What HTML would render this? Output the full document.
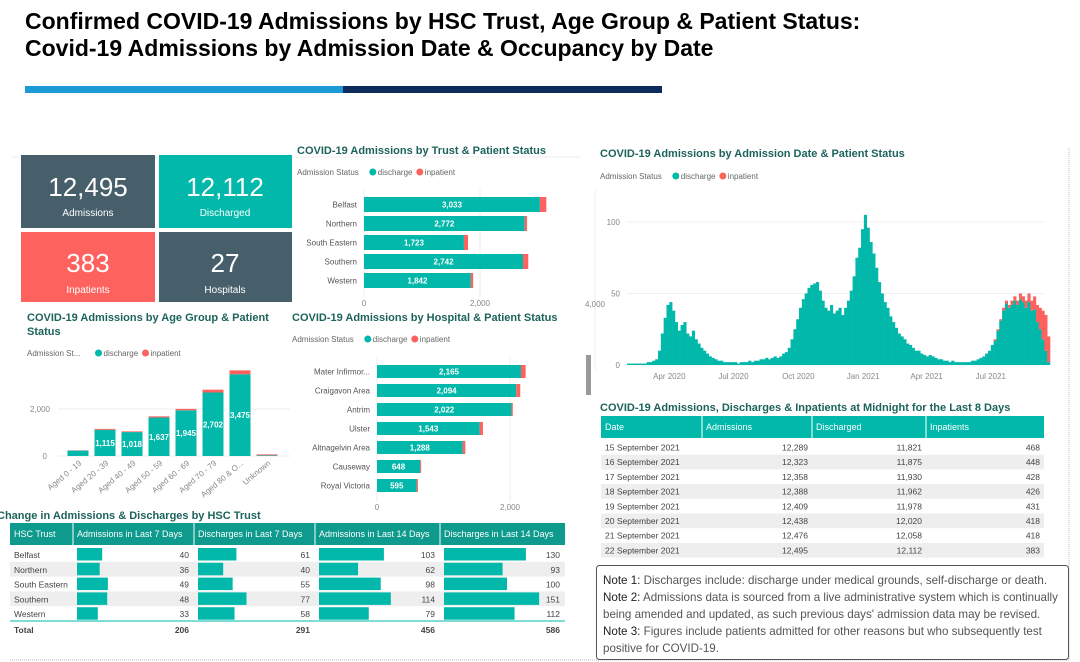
<!DOCTYPE html>
<html><head><meta charset="utf-8"><style>
html,body{margin:0;padding:0;background:#fff;width:1080px;height:662px;overflow:hidden;font-family:"Liberation Sans",sans-serif}
svg{display:block}
.t{font-weight:bold;fill:#1d635c;font-size:11px}
.lg{font-size:8px;fill:#666}
.ax{font-size:8px;fill:#888}
.cl{font-size:8px;fill:#555}
.dl{font-size:8px;fill:#fff;font-weight:bold}
.th{font-size:9px;fill:#fff}
.td{font-size:8.5px;fill:#444}
.note{font-size:11.6px;fill:#555}
.note tspan.b{fill:#222}
</style></head><body>
<svg id="s" width="1080" height="662" xmlns="http://www.w3.org/2000/svg">
<text x="25" y="29" font-size="23" font-weight="bold" fill="#000">Confirmed COVID-19 Admissions by HSC Trust, Age Group &amp; Patient Status:</text>
<text x="25" y="56" font-size="23" font-weight="bold" fill="#000">Covid-19 Admissions by Admission Date &amp; Occupancy by Date</text>
<rect x="25" y="86" width="318" height="7" fill="#1b9ad6"/>
<rect x="343" y="86" width="319" height="7" fill="#0f2a5c"/>
<line x1="12" y1="157" x2="580" y2="157" stroke="#eee"/>
<line x1="1069" y1="148" x2="1069" y2="660" stroke="#bbb" stroke-dasharray="1,1"/>
<line x1="10" y1="660" x2="1069" y2="660" stroke="#bbb" stroke-dasharray="1,1"/>
<rect x="586" y="355" width="5" height="40" fill="#999"/>

<g><rect x="21" y="155" width="134" height="73" fill="#465f6a"/><text x="88" y="196" text-anchor="middle" font-size="26" fill="#fff">12,495</text><text x="88" y="216" text-anchor="middle" font-size="10" fill="#fff">Admissions</text></g>
<g><rect x="159" y="155" width="133" height="73" fill="#01b8aa"/><text x="225" y="196" text-anchor="middle" font-size="26" fill="#fff">12,112</text><text x="225" y="216" text-anchor="middle" font-size="10" fill="#fff">Discharged</text></g>
<g><rect x="21" y="232" width="134" height="70" fill="#fd625e"/><text x="88" y="272" text-anchor="middle" font-size="26" fill="#fff">383</text><text x="88" y="293" text-anchor="middle" font-size="10" fill="#fff">Inpatients</text></g>
<g><rect x="159" y="232" width="133" height="70" fill="#465f6a"/><text x="225" y="272" text-anchor="middle" font-size="26" fill="#fff">27</text><text x="225" y="293" text-anchor="middle" font-size="10" fill="#fff">Hospitals</text></g>

<text class="t" x="297" y="154">COVID-19 Admissions by Trust &amp; Patient Status</text>
<text class="t" x="27" y="321">COVID-19 Admissions by Age Group &amp; Patient</text>
<text class="t" x="27" y="335">Status</text>
<text class="t" x="292" y="321">COVID-19 Admissions by Hospital &amp; Patient Status</text>
<text class="t" x="600" y="157">COVID-19 Admissions by Admission Date &amp; Patient Status</text>
<text class="t" x="-3" y="519">Change in Admissions &amp; Discharges by HSC Trust</text>
<text class="t" x="600" y="411">COVID-19 Admissions, Discharges &amp; Inpatients at Midnight for the Last 8 Days</text>

<g>
<rect x="596.5" y="565.5" width="472" height="94" rx="3" fill="#fff" stroke="#555"/>
<text class="note" x="603" y="584"><tspan class="b">Note 1:</tspan> Discharges include: discharge under medical grounds, self-discharge or death.</text>
<text class="note" x="603" y="601"><tspan class="b">Note 2:</tspan> Admissions data is sourced from a live administrative system which is continually</text>
<text class="note" x="603" y="618">being amended and updated, as such previous days' admission data may be revised.</text>
<text class="note" x="603" y="635"><tspan class="b">Note 3:</tspan> Figures include patients admitted for other reasons but who subsequently test</text>
<text class="note" x="603" y="652">positive for COVID-19.</text>
</g>
</svg>
<script>
const trustCats=['Belfast','Northern','South Eastern','Southern','Western'];
const trustDis=[3033,2772,1723,2742,1842];
const trustInp=[110,40,70,90,40];
const ageCats=['Aged 0 - 19','Aged 20 - 39','Aged 40 - 49','Aged 50 - 59','Aged 60 - 69','Aged 70 - 79','Aged 80 & O...','Unknown'];
const ageDis=[230,1115,1018,1637,1945,2702,3475,30];
const ageInp=[10,40,30,50,60,120,170,40];
const ageLabels=['','1,115','1,018','1,637','1,945','2,702','3,475',''];
const hospCats=['Mater Infirmor...','Craigavon Area','Antrim','Ulster','Altnagelvin Area','Causeway','Royal Victoria'];
const hospDis=[2165,2094,2022,1543,1288,648,595];
const hospInp=[70,60,20,50,40,15,20];
const dateDis=[1,1,1,1,1,1,1,2,2,3,4,10,22,33,42,44,38,30,24,28,30,22,20,24,18,15,12,10,8,6,5,4,3,3,2,2,2,2,2,1,2,2,2,3,2,3,3,4,4,5,4,5,6,5,6,8,9,12,18,25,32,40,46,50,54,56,57,58,52,45,40,38,42,36,38,40,35,40,45,52,62,75,82,95,105,96,86,78,68,58,50,44,40,34,30,26,22,20,18,15,14,12,10,10,8,7,6,7,6,5,4,4,3,3,2,3,2,2,2,2,2,2,3,3,4,5,6,8,10,14,17,24,31,38,43,40,42,45,42,46,44,40,44,38,39,30,25,18,10,2];
const dateInp=[0,0,0,0,0,0,0,0,0,0,0,0,0,0,0,0,0,0,0,0,0,0,0,0,0,0,0,0,0,0,0,0,0,0,0,0,0,0,0,0,0,0,0,0,0,0,0,0,0,0,0,0,0,0,0,0,0,0,0,0,0,0,0,0,0,0,0,0,0,0,0,0,0,0,0,0,0,0,0,0,0,0,0,0,0,0,0,0,0,0,0,0,0,0,0,0,0,0,0,0,0,0,0,0,0,0,0,0,0,0,0,0,0,0,0,0,0,0,0,0,0,0,0,0,0,0,0,0,0,0,1,1,1,2,2,2,3,3,3,4,4,5,6,7,9,12,15,20,25,18];
const dateTicks=['Apr 2020','Jul 2020','Oct 2020','Jan 2021','Apr 2021','Jul 2021'];
const dateTickDays=[60,151,243,335,425,516];
const dateYTicks=[0,50,100];
const chgTrusts=['Belfast','Northern','South Eastern','Southern','Western'];
const chgAdm7=[40,36,49,48,33];
const chgDis7=[61,40,55,77,58];
const chgAdm14=[103,62,98,114,79];
const chgDis14=[130,93,100,151,112];
const chgTotals=['206','291','456','586'];
const mDates=['15 September 2021','16 September 2021','17 September 2021','18 September 2021','19 September 2021','20 September 2021','21 September 2021','22 September 2021'];
const mAdm=['12,289','12,323','12,358','12,388','12,409','12,438','12,476','12,495'];
const mDis=['11,821','11,875','11,930','11,962','11,978','12,020','12,058','12,112'];
const mInp=['468','448','428','426','431','418','418','383'];

const S=document.getElementById('s');const NS='http://www.w3.org/2000/svg';
function mk(tag,a,txt){const e=document.createElementNS(NS,tag);for(const k in a)e.setAttribute(k,a[k]);if(txt!==undefined)e.textContent=txt;S.appendChild(e);return e;}
const TEAL='#01b8aa',RED='#fd625e';
function fmt(v){return v.toLocaleString('en-US');}
function legend(x,y,lab){
  let e=mk('text',{x:x,y:y,class:'lg'},lab);
  
  
  const w=lab.length*4.3+4;
  e=mk('circle',{cx:x+w+3,cy:y-3,r:3.5,fill:TEAL});
  
  
  e=mk('text',{x:x+w+8,y:y,class:'lg'},'discharge');
  
  
  e=mk('circle',{cx:x+w+50,cy:y-3,r:3.5,fill:RED});
  
  
  e=mk('text',{x:x+w+55,y:y,class:'lg'},'inpatient');
  
  
}
legend(297,175,'Admission Status');
legend(27,356,'Admission St...');
legend(292,342,'Admission Status');
legend(600,179,'Admission Status');

function hbar(cats,dis,inp,x0,scale,y0,step,h,labX,axY,gx,name){
  let g=mk('line',{x1:x0+2000*scale,y1:y0-8,x2:x0+2000*scale,y2:axY-8,stroke:'#eee'});
  
  
  g=mk('line',{x1:x0,y1:y0-8,x2:x0,y2:axY-8,stroke:'#eee'});
  
  
  cats.forEach((c,i)=>{
    const y=y0+i*step;const w=dis[i]*scale,w2=inp[i]*scale;
    let e=mk('text',{x:labX,y:y+h/2+3,class:'cl','text-anchor':'end'},c);
    
    
    e=mk('rect',{x:x0,y:y,width:w,height:h,fill:TEAL});
    
    
    e=mk('rect',{x:x0+w,y:y,width:w2,height:h,fill:RED});
    
    
    e=mk('text',{x:x0+w/2,y:y+h/2+3,class:'dl','text-anchor':'middle'},fmt(dis[i]));
    
    
  });
  let t=mk('text',{x:x0,y:axY,class:'ax','text-anchor':'middle'},'0');
  
  
  t=mk('text',{x:x0+2000*scale,y:axY,class:'ax','text-anchor':'middle'},'2,000');
  
  
}
hbar(trustCats,trustDis,trustInp,364,0.058,197,19,15,357,306,0,'trust');
hbar(hospCats,hospDis,hospInp,377,0.0665,365,19,13,370,510,0,'hospital');

(function(){
  const base=456,sc=0.0235,c0=78,st=27,bw=21;
  let g=mk('line',{x1:58,y1:base-2000*sc,x2:290,y2:base-2000*sc,stroke:'#eee'});
  
  
  g=mk('line',{x1:58,y1:base,x2:290,y2:base,stroke:'#eee'});
  
  
  let t=mk('text',{x:47,y:base+3,class:'ax','text-anchor':'end'},'0');
  
  
  t=mk('text',{x:50,y:base-2000*sc+3,class:'ax','text-anchor':'end'},'2,000');
  
  
  ageCats.forEach((c,i)=>{
    const cx=c0+i*st,h=ageDis[i]*sc,h2=ageInp[i]*sc;
    let e=mk('rect',{x:cx-bw/2,y:base-h,width:bw,height:h,fill:TEAL});
    
    
    e=mk('rect',{x:cx-bw/2,y:base-h-h2,width:bw,height:h2,fill:RED});
    
    
    if(ageLabels[i]){e=mk('text',{x:cx,y:base-h+Math.min(h/2,42)+3,class:'dl','text-anchor':'middle'},ageLabels[i]);
    
    }
    e=mk('text',{x:cx+4,y:base+8,class:'ax','text-anchor':'end',transform:`rotate(-40 ${cx+4} ${base+8})`},c);
    
    
  });
})();

(function(){
  const x0=627,px=0.705,base=365,sc=1.43,bd=4;
  dateYTicks.forEach(v=>{
    let g=mk('line',{x1:x0,y1:base-v*sc,x2:1044,y2:base-v*sc,stroke:'#f0f0f0'});
    
    
    g=mk('text',{x:620,y:base-v*sc+3,class:'ax','text-anchor':'end'},String(v));
    
    
  });
  let a=mk('line',{x1:595,y1:190,x2:595,y2:370,stroke:'#eee'});
  
  
  a=mk('text',{x:605,y:307,class:'ax','text-anchor':'end'},'4,000');
  
  
  dateDis.forEach((v,i)=>{
    const x=x0+i*bd*px,w=bd*px+0.3,h=v*sc,h2=(dateInp[i]||0)*sc;
    let e=mk('rect',{x:x,y:base-h,width:w,height:h,fill:TEAL});
    
    
    if(h2>0){e=mk('rect',{x:x,y:base-h-h2,width:w,height:h2,fill:RED});
    
    }
  });
  dateTicks.forEach((l,i)=>{
    const e=mk('text',{x:x0+dateTickDays[i]*px,y:379,class:'ax','text-anchor':'middle'},l);
    
    
  });
})();

(function(){
  const cols=[10,73,194,315,440,565];
  const heads=['HSC Trust','Admissions in Last 7 Days','Discharges in Last 7 Days','Admissions in Last 14 Days','Discharges in Last 14 Days'];
  let e=mk('rect',{x:10,y:523,width:555,height:22,fill:'#0e9a8d'});
  
  
  heads.forEach((h,i)=>{
    e=mk('text',{x:cols[i]+4,y:537,class:'th'},h);
    
    
    if(i>0){e=mk('line',{x1:cols[i],y1:523,x2:cols[i],y2:620,stroke:'#fff'});
    
    }
  });
  const series=[chgAdm7,chgDis7,chgAdm14,chgDis14];
  chgTrusts.forEach((t,r)=>{
    const y=547+r*14.8;
    if(r%2==1){e=mk('rect',{x:10,y:y,width:555,height:14.8,fill:'#eeeeee'});
    
    }
    e=mk('text',{x:14,y:y+11,class:'td'},t);
    
    
    series.forEach((s,c)=>{
      e=mk('rect',{x:cols[c+1]+4,y:y+1,width:s[r]*0.63,height:12.5,fill:TEAL});
      
      
      e=mk('text',{x:cols[c+2]-5,y:y+11,class:'td','text-anchor':'end'},String(s[r]));
      
      
    });
  });
  e=mk('line',{x1:10,y1:621,x2:565,y2:621,stroke:TEAL});
  
  
  e=mk('text',{x:14,y:633,class:'td','font-weight':'bold'},'Total');
  
  
  chgTotals.forEach((v,c)=>{
    e=mk('text',{x:cols[c+2]-5,y:633,class:'td','font-weight':'bold','text-anchor':'end'},v);
    
    
  });
})();

(function(){
  const cols=[601,702,812,926,1044];
  let e=mk('rect',{x:601,y:416,width:443,height:22,fill:TEAL});
  
  
  ['Date','Admissions','Discharged','Inpatients'].forEach((h,i)=>{
    e=mk('text',{x:cols[i]+4,y:430,class:'th'},h);
    
    
    if(i>0){e=mk('line',{x1:cols[i],y1:416,x2:cols[i],y2:438,stroke:'#fff'});
    
    }
  });
  mDates.forEach((d,r)=>{
    const y=440+r*14.7;
    if(r%2==1){e=mk('rect',{x:601,y:y,width:443,height:14.7,fill:'#eeeeee'});
    
    }
    e=mk('text',{x:605,y:y+10.5,class:'td'},d);
    
    
    [mAdm,mDis,mInp].forEach((arr,c)=>{
      e=mk('text',{x:cols[c+2]-4,y:y+10.5,class:'td','text-anchor':'end'},arr[r]);
      
      
    });
  });
})();
</script>
</body></html>
